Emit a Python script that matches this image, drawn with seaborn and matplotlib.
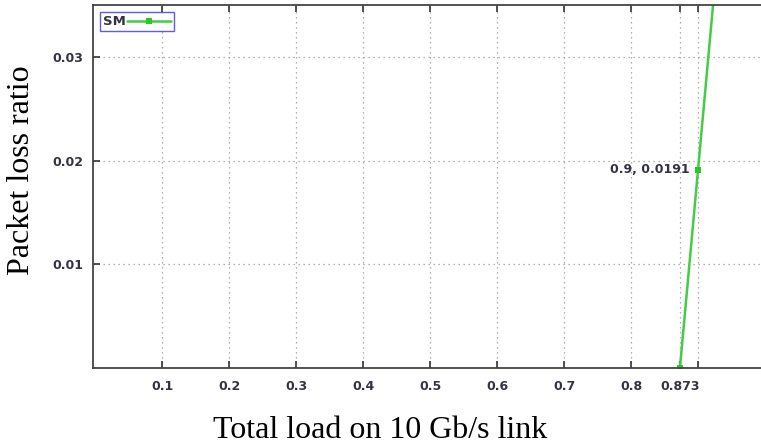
import matplotlib
matplotlib.use("Agg")
import matplotlib.pyplot as plt
import seaborn as sns
import pandas as pd

load = [0.873, 0.9, 0.95]
loss = [0.0, 0.0191, 0.0545]
series = ["SM", "SM", "SM"]
xtick_vals = [0.1, 0.2, 0.3, 0.4, 0.5, 0.6, 0.7, 0.8, 0.873, 0.9]
xtick_labels = ["0.1", "0.2", "0.3", "0.4", "0.5", "0.6", "0.7", "0.8", "0.873", ""]
ytick_vals = [0.01, 0.02, 0.03]
ytick_labels = ["0.01", "0.02", "0.03"]

df = pd.DataFrame({"load": load, "loss": loss, "series": series})

sns.set_theme(style="white")
plt.rcParams["font.family"] = ["DejaVu Sans"]

fig = plt.figure(figsize=(7.61, 4.47), dpi=100)
ax = fig.add_axes([93/761, 1-368/447, 1-93/761, (368-5)/447])

sns.lineplot(data=df, x="load", y="loss", hue="series", palette=["#44cc44"],
             marker="s", markersize=5, markeredgewidth=0, markerfacecolor="#22cc22",
             linewidth=1.8, ax=ax, clip_on=True)

ax.set_xlim(-0.003, 0.994)
ax.set_ylim(0, 0.035)
ax.set_xticks(xtick_vals)
ax.set_xticklabels(xtick_labels, fontweight="bold")
ax.set_yticks(ytick_vals)
ax.set_yticklabels(ytick_labels, fontweight="bold")
ax.tick_params(axis="both", direction="in", length=5, width=1.2, colors="#333333",
               labelsize=9, labelcolor="#333344", top=True, bottom=True, left=True, right=False)
ax.tick_params(axis="x", pad=9)
ax.tick_params(axis="y", pad=7)
ax.grid(True, linestyle=(0, (1, 3)), color="#999999", linewidth=0.9)
for s in ["left", "bottom", "top"]:
    ax.spines[s].set_color("#444444")
    ax.spines[s].set_linewidth(1.3)
ax.spines["right"].set_visible(False)

ax.set_xlabel("Total load on 10 Gb/s link", family="Liberation Serif", fontsize=23, color="black")
ax.set_ylabel("Packet loss ratio", family="Liberation Serif", fontsize=23, color="black")
# label centres (in axes coordinates)
ax.xaxis.set_label_coords((380-93)/668, -(430-368)/363)
ax.yaxis.set_label_coords(-(93-22)/668, (368-170)/363)
ax.xaxis.label.set_va("center")
ax.yaxis.label.set_va("center")

ax.annotate(f"{load[1]:g}, {loss[1]:.4f}", xy=(load[1], loss[1]), xytext=(-6, 0),
            textcoords="offset points", ha="right", va="center", fontsize=9,
            fontweight="bold", color="#333344")

leg = ax.legend(loc="upper left", bbox_to_anchor=(0.010, 0.981), frameon=True, fancybox=False,
                prop={"size": 9.5, "weight": "bold"}, handlelength=3.3, handletextpad=0.1,
                borderpad=0.25, borderaxespad=0, markerfirst=False)
leg.get_frame().set_edgecolor("#3333ee")
leg.get_frame().set_linewidth(1.0)
for t in leg.get_texts():
    t.set_color("#333344")

fig.savefig("out.png", dpi=100)
